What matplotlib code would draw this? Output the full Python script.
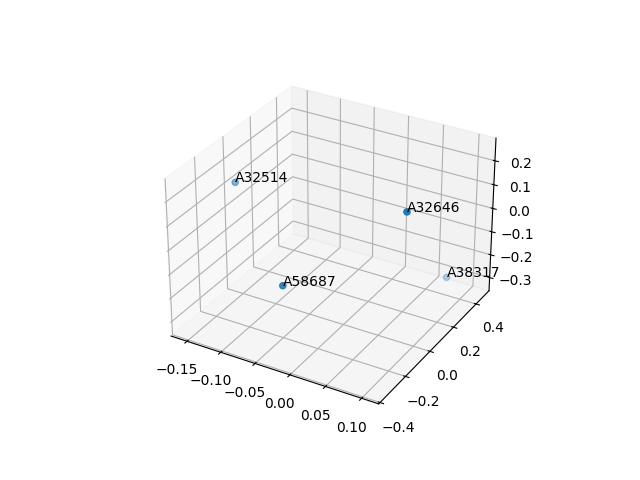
import matplotlib
matplotlib.use('agg')
import matplotlib.pyplot as plt

names = ['A32514', 'A32646', 'A38317', 'A58687']
xs = [-0.155, 0.1045, 0.0707, -0.0199]
ys = [-0.012, -0.103, 0.459, -0.351]
zs = [0.1225, 0.252, -0.317, -0.034]

fig = plt.figure()
ax = fig.add_subplot(projection='3d')
ax.scatter(xs, ys, zs)

for name, x, y, z in zip(names, xs, ys, zs):
    ax.text(x, y, z, name)

fig.savefig('out.png')
